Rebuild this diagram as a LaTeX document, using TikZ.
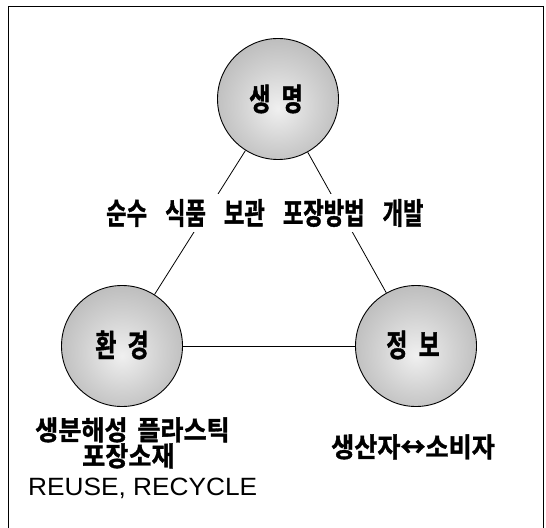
\documentclass[tikz,border=0pt]{standalone}
\usepackage{fontspec}
\setmainfont{Liberation Sans}
\newfontfamily\kr[FakeStretch=0.74,FakeBold=1.2]{Noto Sans CJK KR Bold}
\newfontfamily\krlab[FakeStretch=0.74,FakeBold=1.2]{Noto Sans CJK KR Bold}
\newfontfamily\krbot[FakeStretch=0.93,FakeBold=1.2]{Noto Sans CJK KR Bold}
\newfontfamily\latin[FakeStretch=1.05]{Liberation Sans}
\newcommand{\gap}{\hspace{13bp}}
\newcommand{\lgap}{\hspace{6bp}}
\pgfdeclareradialshading{ballshade}{\pgfpoint{0bp}{-4bp}}{color(0bp)=(black!6); color(16bp)=(black!18); color(36bp)=(black!32); color(50bp)=(black!40)}
\tikzset{
  ball/.style={circle, draw=black, line width=0.9bp, minimum size=121bp, inner sep=0pt, shading=ballshade},
  lab/.style={font=\krlab\fontsize{31bp}{34bp}\selectfont, inner sep=0pt},
  txt/.style={font=\kr\fontsize{30bp}{33bp}\selectfont, inner sep=0pt},
  bot/.style={font=\krbot\fontsize{27bp}{30bp}\selectfont, inner sep=0pt, text height=20bp, text depth=2bp},
  link/.style={line width=0.8bp, black}
}
\begin{document}
\begin{tikzpicture}[x=1bp,y=-1bp]
\useasboundingbox (0,0) rectangle (546,528);
% frame (open at bottom)
\draw[line width=1.6bp] (8.5,528) -- (8.5,6.5) -- (543.5,6.5) -- (543.5,528);
% circles
\node[ball] (life) at (278,99) {};
\node[ball] (env) at (122,346) {};
\node[ball] (info) at (416,346) {};
\node[lab] (lifet) at (276,99) {생 \lgap 명};
\node[lab] (envt) at (122,345) {환 \lgap 경};
\node[lab] (infot) at (413,345) {정 \lgap 보};
% connectors
\draw[link] (life) -- (env);
\draw[link] (life) -- (info);
\draw[link] (env) -- (info);
% middle text, cutting the two upper connectors
\node[txt, fill=white, minimum height=37bp, anchor=west] (mid) at (106,213) {순수 \gap 식품 \gap 보관 \gap 포장방법 \gap 개발};
% bottom texts
\node[bot, anchor=west] (bio) at (35,431) {생분해성\hspace{4bp} 플라스틱};
\node[bot, anchor=west] (pack) at (82,457) {포장소재};
\node[font=\latin\fontsize{25bp}{29bp}\selectfont, inner sep=0pt, anchor=west] (reuse) at (28,488) {REUSE, RECYCLE};
\node[bot, anchor=west] (prod) at (331,448) {생산자↔소비자};
\end{tikzpicture}
\end{document}
